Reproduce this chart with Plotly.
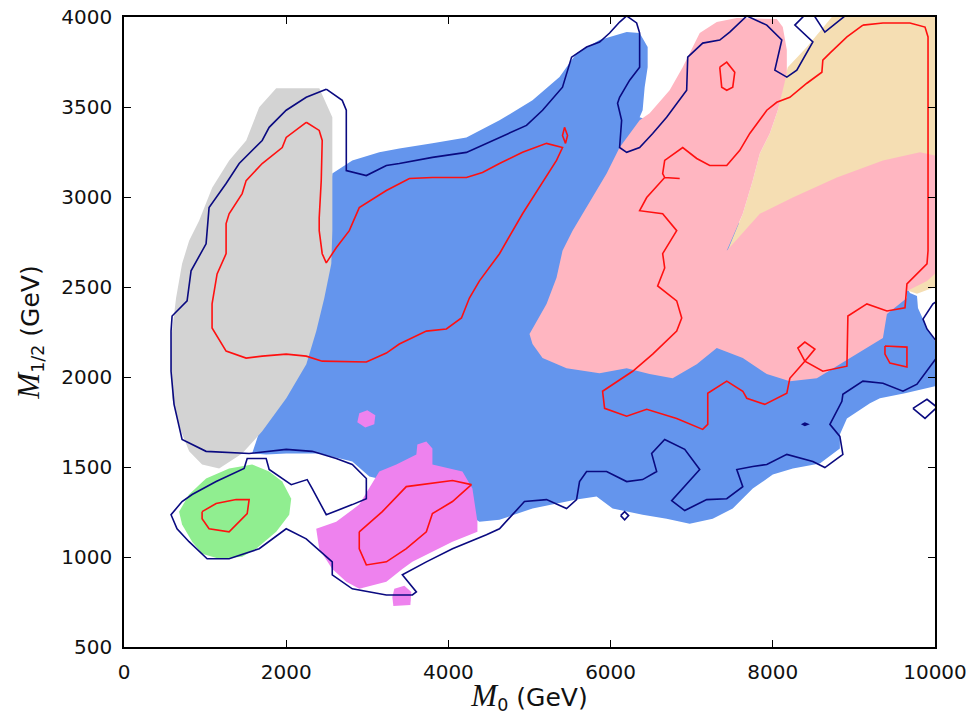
import plotly.graph_objects as go

# ---------------- filled regions (M0, M1/2 in GeV) ----------------
gray_m0 = [1877, 2408, 2569, 2569, 2556, 2470, 2371, 2248, 2001, 1704, 1457, 1173, 963, 803, 704, 593,
           580, 593, 642, 716, 803, 926, 1087, 1297, 1507, 1667]
gray_m12 = [3604, 3604, 3443, 2813, 2629, 2439, 2255, 2071, 1882, 1698, 1575, 1492, 1514, 1587, 1698, 1882,
            2071, 2255, 2439, 2629, 2757, 2868, 3052, 3203, 3314, 3498]

blue_m0 = [2568, 2815, 3148, 3395, 3803, 4222, 4630, 5037, 5370, 5580, 5864, 6198, 6358, 6457, 6457, 6420,
           6395, 6358, 6852, 7716, 8951, 9630, 9691, 9778, 9790, 9901, 10000, 10000, 9630, 9321, 9198,
           8914, 8827, 8827, 8580, 8247, 8000, 7753, 7506, 7259, 6975, 6691, 6395, 6025, 5827, 5580, 5037,
           4630, 4383, 3889, 3395, 3025, 2815, 2407, 2000, 1753, 1580, 1691, 1914, 2160, 2383, 2506]
blue_m12 = [3130, 3203, 3248, 3270, 3298, 3331, 3426, 3537, 3666, 3799, 3872, 3916, 3911, 3833, 3721, 3610,
            3482, 3443, 3370, 2757, 2618, 2523, 2467, 2450, 2384, 2272, 2200, 1949, 1910, 1882, 1854,
            1770, 1681, 1603, 1519, 1492, 1458, 1380, 1269, 1213, 1185, 1213, 1235, 1269, 1336, 1319, 1269,
            1207, 1196, 1336, 1408, 1447, 1531, 1575, 1575, 1570, 1575, 1726, 1893, 2172, 2478, 2757]

wheat_m0 = [8185, 8420, 8728, 10100, 10100, 9778, 9321, 8333, 7593, 7432, 7630, 7753, 7840, 7963, 8062, 8123]
wheat_m12 = [3721, 3833, 4000, 4100, 2517, 2462, 2534, 2757, 2729, 2690, 2907, 3091, 3242, 3353, 3482, 3610]

pink_m0 = [6481, 6728, 6889, 7099, 7309, 7556, 8049, 8123, 8173, 8173, 8123, 8062, 7963, 7840, 7753, 7630,
           7432, 7840, 8247, 8790, 9358, 9815, 10000, 10000, 9901, 9654, 9654, 9407, 9358, 8951, 8543,
           8210, 7926, 7630, 7309, 7062, 6765, 6481, 6198, 5864, 5457, 5161, 5037, 5000, 5210, 5333,
           5407, 5531, 5704, 5951, 6111, 6358]
pink_m12 = [3465, 3593, 3721, 3911, 3972, 3994, 3989, 3944, 3816, 3688, 3593, 3482, 3353, 3242, 3091, 2907,
            2701, 2907, 2997, 3108, 3203, 3248, 3231, 2573, 2534, 2478, 2439, 2350, 2216, 2105, 1993,
            1977, 2016, 2105, 2161, 2071, 1993, 2016, 2049, 2021, 2049, 2105, 2183, 2239, 2406, 2551,
            2701, 2813, 2941, 3130, 3275, 3426]

green_m0 = [802, 1012, 1296, 1580, 1790, 1951, 2062, 2037, 1877, 1630, 1457, 1173, 963, 840, 716, 679]
green_m12 = [1347, 1436, 1492, 1514, 1475, 1419, 1324, 1235, 1140, 1046, 1001, 990, 1018, 1085, 1180, 1252]

violet_m0 = [2370, 2617, 2901, 3148, 3358, 3605, 3617, 3728, 3803, 3803, 4173, 4296, 4358, 4358, 4050,
             3803, 3556, 3432, 3235, 2901, 2741, 2568, 2407]
violet_m12 = [1157, 1196, 1291, 1475, 1514, 1570, 1625, 1642, 1603, 1514, 1475, 1380, 1196, 1140, 1085,
              1029, 973, 934, 862, 823, 862, 934, 1046]
violet_b_m0 = [3333, 3457, 3543, 3531, 3321, 3309]
violet_b_m12 = [823, 840, 806, 733, 728, 778]
violet_c_m0 = [2901, 3000, 3099, 3086, 2975, 2877]
violet_c_m12 = [1798, 1815, 1787, 1737, 1720, 1748]

# ---------------- navy contour ----------------
navy_m0 = [2494, 2691, 2741, 2741, 2988, 3235, 3395, 3803, 4222, 4630, 4963, 5161, 5407, 5519, 5704, 5864,
           5988, 6111, 6198, 6321, 6358, 6358, 6235, 6111, 6086, 6136, 6111, 6198, 6358, 6519, 6691,
           6938, 6951, 7136, 7346, 7469, 7679, 7926, 8111, 8025, 8173, 8296, 8494, 8272, 8432, 8481,
           8642, 8951, 10300, 10300, 10062, 9975, 9852, 9901, 10062, 10309, 10062, 9778, 9605, 9358,
           9111, 8864, 8852, 8704, 8827, 8864, 8642, 8494, 8173, 7926, 7753, 7556, 7630, 7432, 7185,
           6914, 6753, 7099, 6914, 6667, 6506, 6568, 6395, 6198, 5951, 5704, 5617, 5580, 5457, 5210,
           4938, 4630, 4469, 4050, 3728, 3432, 3605, 3556, 3235, 2815, 2568, 2568, 2247, 2000, 1667,
           1296, 1025, 802, 654, 580, 716, 840, 1136, 1481, 1519, 1753, 1790, 2062, 2259, 2321, 2494,
           2815, 2988, 2988, 2815, 2617, 2321, 2000, 1790, 1543, 1012, 716, 617, 580, 580, 593, 778,
           827, 1012, 1025, 1049, 1259, 1420, 1704, 1790, 2000, 2247, 2494]
navy_m12 = [3599, 3537, 3482, 3147, 3119, 3175, 3186, 3220, 3248, 3331, 3398, 3482, 3610, 3777, 3833, 3861,
            3911, 3972, 4006, 3967, 3911, 3721, 3649, 3554, 3521, 3426, 3275, 3248, 3275, 3353, 3443,
            3593, 3777, 3855, 3872, 3916, 4006, 3955, 3872, 3705, 3666, 3705, 3861, 3955, 4028, 4028,
            3916, 4028, 4200, 2434, 2434, 2406, 2322, 2267, 2172, 2144, 2133, 1960, 1921, 1965,
            1977, 1904, 1865, 1737, 1670, 1570, 1497, 1531, 1570, 1514, 1503, 1486, 1391, 1324, 1319,
            1258, 1313, 1486, 1598, 1653, 1575, 1475, 1430, 1419, 1475, 1475, 1419, 1319, 1269, 1319,
            1308, 1157, 1124, 1046, 973, 901, 806, 789, 789, 823, 901, 973, 1101, 1157, 1046,
            990, 990, 1085, 1157, 1235, 1308, 1347, 1419, 1492, 1547, 1547, 1486, 1402, 1430, 1380, 1235,
            1291, 1324, 1436, 1514, 1547, 1587, 1598, 1587, 1575, 1587, 1653, 1848, 2032, 2255, 2339, 2423,
            2590, 2740, 2813, 2941, 3075, 3186, 3314, 3387, 3482, 3554, 3599]

navy_d1_m0 = [6124, 6173, 6222, 6173, 6124]
navy_d1_m12 = [1230, 1252, 1230, 1207, 1230]
navy_d2_m0 = [9728, 9901, 10025, 9877, 9728]
navy_d2_m12 = [1826, 1876, 1832, 1770, 1826]
navy_dot_m0 = [8346, 8395, 8457, 8395]
navy_dot_m12 = [1737, 1748, 1737, 1726]

# ---------------- red contours ----------------
red1_m0 = [2247, 2407, 2444, 2432, 2407, 2407, 2444, 2494, 2617, 2778, 2901, 3235, 3519, 3803, 4222, 4420,
           4630, 4914, 5210, 5407, 5333, 5123, 4914, 4630, 4383, 4259, 4161, 3975, 3728, 3395, 3235,
           2988, 2444, 2247, 2000, 1704, 1506, 1259, 1086, 1086, 1148, 1259, 1259, 1296, 1457, 1506,
           1704, 1951, 2000, 2247]
red1_m12 = [3415, 3370, 3314, 3091, 2885, 2813, 2685, 2634, 2718, 2813, 2941, 3036, 3103, 3108, 3108, 3136,
            3186, 3248, 3298, 3275, 3203, 3052, 2907, 2685, 2534, 2439, 2328, 2267, 2255, 2183, 2133,
            2083, 2088, 2116, 2127, 2116, 2105, 2144, 2272, 2406, 2573, 2685, 2852, 2907, 3019, 3091,
            3186, 3275, 3331, 3415]
red_lens_m0 = [5432, 5469, 5444, 5407, 5432]
red_lens_m12 = [3387, 3342, 3298, 3342, 3387]

red2_m0 = [9111, 9358, 9691, 9877, 9914, 9914, 9901, 9654, 9630, 9407, 9160, 8926, 8914, 8617, 8395, 8309,
           8395, 8519, 8395, 8210, 8173, 7901, 7679, 7630, 7432, 7198, 7198, 7136, 6815, 6445, 6198,
           5926, 5901, 6272, 6519, 6815, 6877, 6815, 6580, 6667, 6642, 6815, 6642, 6358, 6445, 6667,
           6852, 6667, 6642, 6667, 6889, 7062, 7222, 7432, 7593, 7716, 7926, 8049, 8210, 8420, 8605,
           8617, 8704, 8914, 9111]
red2_m12 = [3955, 3967, 3967, 3944, 3889, 2701, 2629, 2517, 2384, 2367, 2406, 2339, 2060, 2032, 2088, 2161,
            2194, 2155, 2088, 1993, 1910, 1848, 1882, 1921, 1977, 1910, 1737, 1709, 1770, 1821, 1782,
            1826, 1921, 2032, 2127, 2255, 2328, 2423, 2506, 2606, 2685, 2813, 2907, 2924, 2997, 3108,
            3103, 3108, 3130, 3203, 3275, 3214, 3175, 3175, 3259, 3353, 3482, 3526, 3554, 3632, 3693,
            3760, 3799, 3889, 3955]

red3_m0 = [7346, 7432, 7531, 7506, 7432, 7370, 7346]
red3_m12 = [3721, 3749, 3693, 3610, 3593, 3610, 3721]
red4_m0 = [9383, 9654, 9654, 9444, 9383, 9383]
red4_m12 = [2172, 2166, 2055, 2077, 2127, 2172]
red5_m0 = [963, 1136, 1383, 1543, 1519, 1296, 1049, 963, 963]
red5_m12 = [1252, 1297, 1319, 1319, 1241, 1140, 1157, 1213, 1252]
red6_m0 = [2901, 3185, 3481, 4050, 4284, 4050, 3803, 3728, 3481, 3235, 2988, 2901, 2901]
red6_m12 = [1140, 1252, 1391, 1425, 1402, 1308, 1241, 1140, 1046, 973, 956, 1046, 1140]

x_ticks = [0, 2000, 4000, 6000, 8000, 10000]
y_ticks = [500, 1000, 1500, 2000, 2500, 3000, 3500, 4000]

fig = go.Figure()


def region(xs, ys, color):
    fig.add_trace(go.Scatter(x=xs, y=ys, fill="toself", fillcolor=color, mode="lines",
                             line=dict(width=0, color=color), hoverinfo="skip", showlegend=False))


def contour(xs, ys, color, width=1.6):
    fig.add_trace(go.Scatter(x=xs, y=ys, mode="lines", line=dict(color=color, width=width),
                             hoverinfo="skip", showlegend=False))


region(blue_m0, blue_m12, "#6495ED")
region(wheat_m0, wheat_m12, "#F5DEB3")
region(pink_m0, pink_m12, "#FFB6C1")
region(gray_m0, gray_m12, "#D3D3D3")
region(green_m0, green_m12, "#90EE90")
region(violet_m0, violet_m12, "#EE82EE")
region(violet_b_m0, violet_b_m12, "#EE82EE")
region(violet_c_m0, violet_c_m12, "#EE82EE")

navy = "#0A0A80"
contour(navy_m0, navy_m12, navy)
contour(navy_d1_m0, navy_d1_m12, navy)
contour(navy_d2_m0, navy_d2_m12, navy)
region(navy_dot_m0, navy_dot_m12, navy)

red = "#FF1010"
for xs, ys in [(red1_m0, red1_m12), (red_lens_m0, red_lens_m12), (red2_m0, red2_m12),
               (red3_m0, red3_m12), (red4_m0, red4_m12), (red5_m0, red5_m12), (red6_m0, red6_m12)]:
    contour(xs, ys, red)

serif = "Liberation Serif"
axis_common = dict(showgrid=False, zeroline=False, showline=True, linecolor="black", linewidth=1.5,
                   mirror="ticks", ticks="inside", ticklen=7, tickwidth=1, tickcolor="black",
                   ticklabelstandoff=6, automargin=False,
                   tickfont=dict(family="DejaVu Sans", size=20, color="#111"))

m_sym = f'<span style="font-family:{serif};font-size:31px"><i>M</i></span>'
fig.update_xaxes(range=[0, 10000], tickvals=x_ticks, ticktext=[str(v) for v in x_ticks],
                 title=dict(text=m_sym + '<sub>0</sub> (GeV)',
                            font=dict(family="DejaVu Sans", size=25, color="#111")),
                 **axis_common)
fig.update_yaxes(range=[500, 4000], tickvals=y_ticks, ticktext=[str(v) for v in y_ticks],
                 title=dict(text=m_sym + '<sub>1/2</sub> (GeV)',
                            font=dict(family="DejaVu Sans", size=25, color="#111")),
                 **axis_common)

fig.update_layout(width=971, height=715, margin=dict(l=124, r=36, t=17, b=68),
                  paper_bgcolor="white", plot_bgcolor="white")

fig.write_html("out.html")
